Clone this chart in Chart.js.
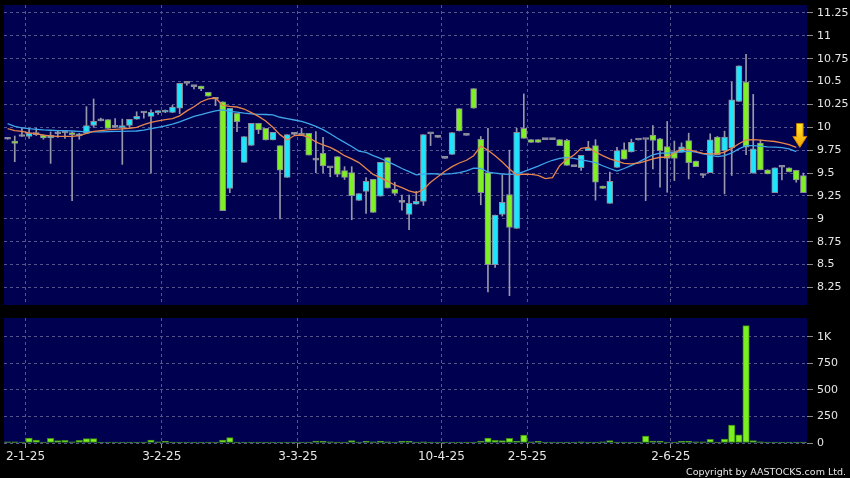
<!DOCTYPE html>
<html>
<head>
<meta charset="utf-8">
<script src="https://cdn.jsdelivr.net/npm/chart.js@4.4.1/dist/chart.umd.min.js"></script>
<style>
  html, body { margin: 0; padding: 0; background: #000; }
  #wrap { position: relative; width: 850px; height: 478px; overflow: hidden; background: #000; }
  #wrap canvas { position: absolute; left: 0; }
  #pc { top: 0; }
  #vc { top: 310px; }
  .copy { position: absolute; right: 4px; bottom: 1px; color: #e6e6e6;
          font: 9.5px "DejaVu Sans", sans-serif; white-space: nowrap; }
</style>
</head>
<body>
<div id="wrap">
  <canvas id="pc" width="850" height="310"></canvas>
  <canvas id="vc" width="850" height="168"></canvas>
  <div class="copy">Copyright by AASTOCKS.com Ltd.</div>
</div>
<script>
/* ── Data ──────────────────────────────────────────── */
const open = [
  9.87, 9.85, 9.90, 9.90, 9.92, 9.912, 9.883, 9.93, 9.94, 9.927,
  9.905, 9.934, 10.02, 10.07, 10.084, 10.0, 9.996, 10.022, 10.088, 10.157,
  10.12, 10.16, 10.165, 10.164, 10.208, 10.48, 10.445, 10.45, 10.383, 10.32,
  10.28, 9.332, 10.153, 9.617, 9.803, 10.044, 9.989, 9.861, 9.80, 9.453,
  9.923, 9.916, 9.934, 9.642, 9.715, 9.558, 9.679, 9.526, 9.504, 9.20,
  9.30, 9.431, 9.248, 9.668, 9.321, 9.18, 9.047, 9.16, 9.19, 9.93,
  9.89, 9.66, 9.704, 10.204, 9.912, 10.423, 9.868, 9.504, 8.50, 9.047,
  9.266, 8.894, 9.989, 9.865, 9.865, 9.865, 9.865, 9.865, 9.858, 9.57,
  9.558, 9.745, 9.80, 9.358, 9.168, 9.562, 9.756, 9.73, 9.861, 9.867,
  9.914, 9.874, 9.79, 9.735, 9.728, 9.856, 9.63, 9.473, 9.505, 9.892,
  9.746, 9.776, 10.283, 10.494, 9.498, 9.827, 9.535, 9.286, 9.564, 9.557,
  9.531, 9.473
];
const close = [
  9.87, 9.825, 9.90, 9.934, 9.92, 9.883, 9.912, 9.93, 9.94, 9.92,
  9.93, 10.02, 10.066, 10.07, 9.989, 10.0, 10.018, 10.088, 10.12, 10.157,
  10.164, 10.18, 10.18, 10.22, 10.482, 10.48, 10.445, 10.42, 10.34, 10.307,
  9.09, 10.208, 10.062, 9.898, 10.044, 9.971, 9.861, 9.945, 9.533, 9.92,
  9.923, 9.916, 9.697, 9.642, 9.577, 9.558, 9.485, 9.453, 9.252, 9.277,
  9.409, 9.069, 9.617, 9.336, 9.277, 9.18, 9.168, 9.19, 9.92, 9.93,
  9.89, 9.66, 9.942, 9.96, 9.912, 10.208, 9.285, 8.50, 9.04, 9.18,
  8.905, 9.945, 9.88, 9.836, 9.836, 9.865, 9.865, 9.80, 9.584, 9.57,
  9.693, 9.774, 9.40, 9.332, 9.409, 9.745, 9.653, 9.836, 9.861, 9.867,
  9.856, 9.746, 9.659, 9.659, 9.787, 9.615, 9.571, 9.473, 9.863, 9.699,
  9.892, 10.30, 10.673, 9.783, 9.765, 9.535, 9.491, 9.557, 9.564, 9.513,
  9.425, 9.286
];
const high = [
  9.88, 9.905, 10.0, 9.99, 9.99, 9.92, 9.95, 9.96, 9.95, 9.95,
  9.935, 10.226, 10.31, 10.1, 10.084, 10.095, 10.09, 10.088, 10.17, 10.17,
  10.19, 10.18, 10.19, 10.24, 10.482, 10.48, 10.445, 10.45, 10.383, 10.32,
  10.28, 10.208, 10.153, 9.898, 10.044, 10.044, 9.989, 9.945, 9.80, 9.92,
  9.93, 9.99, 9.934, 9.953, 9.89, 9.56, 9.68, 9.57, 9.57, 9.277,
  9.45, 9.431, 9.617, 9.668, 9.40, 9.26, 9.26, 9.30, 9.92, 9.94,
  9.9, 9.66, 9.942, 10.204, 9.912, 10.423, 9.90, 9.989, 9.04, 9.48,
  9.75, 9.99, 10.365, 9.865, 9.865, 9.865, 9.87, 9.865, 9.87, 9.57,
  9.693, 9.847, 9.865, 9.358, 9.511, 9.78, 9.83, 9.87, 9.861, 9.87,
  10.02, 9.88, 10.064, 9.85, 9.83, 9.936, 9.63, 9.49, 9.929, 9.90,
  9.958, 10.494, 10.673, 10.797, 10.36, 9.86, 9.535, 9.557, 9.57, 9.557,
  9.531, 9.50
];
const low = [
  9.87, 9.624, 9.90, 9.88, 9.91, 9.87, 9.606, 9.89, 9.88, 9.197,
  9.87, 9.93, 10.0, 10.07, 9.989, 10.0, 9.595, 10.0, 10.088, 10.1,
  9.50, 10.14, 10.16, 10.16, 10.15, 10.46, 10.42, 10.40, 10.34, 10.237,
  9.09, 9.285, 9.953, 9.617, 9.803, 9.93, 9.861, 9.861, 9.0, 9.453,
  9.92, 9.916, 9.697, 9.504, 9.504, 9.46, 9.46, 9.43, 8.99, 9.20,
  9.058, 9.069, 9.248, 9.336, 9.26, 9.095, 8.88, 9.16, 9.146, 9.80,
  9.89, 9.66, 9.704, 9.96, 9.912, 10.208, 9.153, 8.20, 8.47, 9.03,
  8.16, 8.894, 9.88, 9.836, 9.836, 9.865, 9.865, 9.80, 9.584, 9.57,
  9.53, 9.745, 9.204, 9.332, 9.168, 9.562, 9.653, 9.73, 9.861, 9.199,
  9.546, 9.345, 9.29, 9.418, 9.728, 9.436, 9.571, 9.45, 9.505, 9.699,
  9.272, 9.473, 10.283, 9.70, 9.498, 9.535, 9.491, 9.286, 9.425, 9.513,
  9.40, 9.286
];
const volume = [
  12, 12, 6, 47, 28, 6, 44, 22, 25, 12,
  25, 41, 41, 6, 6, 6, 6, 9, 9, 6,
  28, 12, 16, 6, 9, 6, 6, 6, 6, 6,
  28, 50, 9, 9, 0, 0, 0, 0, 6, 6,
  6, 6, 6, 19, 16, 12, 9, 9, 22, 9,
  16, 12, 16, 12, 9, 16, 16, 9, 12, 6,
  6, 0, 2, 0, 0, 0, 19, 47, 25, 22,
  44, 19, 75, 12, 16, 9, 6, 6, 9, 9,
  12, 9, 9, 12, 22, 9, 6, 6, 6, 66,
  19, 19, 9, 9, 16, 16, 12, 12, 34, 9,
  38, 169, 78, 1107, 22, 12, 9, 9, 9, 9,
  9, 9
];
// short moving average (orange) and long moving average (blue), as drawn
const maShort = [
  9.985, 9.965, 9.955, 9.94, 9.93, 9.915, 9.905, 9.902, 9.90, 9.902,
  9.91, 9.935, 9.955, 9.965, 9.972, 9.978, 9.984, 9.99, 10.0, 10.03,
  10.055, 10.07, 10.085, 10.095, 10.125, 10.18, 10.225, 10.28, 10.31, 10.32,
  10.24, 10.228, 10.222, 10.2, 10.16, 10.12, 10.07, 10.0, 9.92, 9.862,
  9.91, 9.916, 9.89, 9.84, 9.807, 9.78, 9.74, 9.69, 9.655, 9.615,
  9.55, 9.485, 9.45, 9.41, 9.37, 9.34, 9.305, 9.285, 9.32, 9.40,
  9.46, 9.52, 9.57, 9.61, 9.64, 9.69, 9.795, 9.75, 9.69, 9.62,
  9.545, 9.478, 9.489, 9.485, 9.475, 9.44, 9.45, 9.58, 9.65, 9.697,
  9.77, 9.78, 9.73, 9.69, 9.655, 9.63, 9.605, 9.60, 9.61, 9.63,
  9.655, 9.673, 9.673, 9.72, 9.765, 9.755, 9.735, 9.715, 9.71, 9.71,
  9.73, 9.77, 9.82, 9.863, 9.865, 9.86, 9.852, 9.845, 9.83, 9.81,
  9.78
];
const maLong = [
  10.04, 10.01, 9.995, 9.985, 9.978, 9.972, 9.968, 9.965, 9.963, 9.96,
  9.955, 9.95, 9.95, 9.95, 9.952, 9.955, 9.956, 9.958, 9.96, 9.97,
  9.985, 10.0, 10.015, 10.035, 10.06, 10.09, 10.12, 10.14, 10.16, 10.18,
  10.19, 10.175, 10.165, 10.155, 10.148, 10.142, 10.14, 10.135, 10.11, 10.095,
  10.08, 10.065, 10.04, 10.01, 9.975, 9.93, 9.88, 9.835, 9.79, 9.74,
  9.725, 9.69, 9.66, 9.625, 9.59, 9.55, 9.515, 9.48, 9.488, 9.495,
  9.49, 9.489, 9.495, 9.505, 9.525, 9.555, 9.55, 9.51, 9.50, 9.49,
  9.485, 9.49, 9.515, 9.545, 9.575, 9.61, 9.64, 9.66, 9.672, 9.66,
  9.645, 9.63, 9.615, 9.58, 9.55, 9.522, 9.55, 9.585, 9.62, 9.66,
  9.70, 9.717, 9.717, 9.725, 9.732, 9.739, 9.73, 9.71, 9.695, 9.68,
  9.69, 9.72, 9.765, 9.80, 9.801, 9.795, 9.786, 9.783, 9.778, 9.765,
  9.735
];
const days = open.map((_, i) => i);

const dateTickIdx  = [3, 22, 41, 61, 73, 93];
const dateTickText = ['2-1-25', '3-2-25', '3-3-25', '10-4-25', '2-5-25', '2-6-25'];
const priceTicks     = [8.25, 8.5, 8.75, 9, 9.25, 9.5, 9.75, 10, 10.25, 10.5, 10.75, 11, 11.25];
const priceTickText  = ['8.25', '8.5', '8.75', '9', '9.25', '9.5', '9.75', '10', '10.25', '10.5', '10.75', '11', '11.25'];
const volTicks       = [0, 250, 500, 750, 1000];
const volTickText    = ['0', '250', '500', '750', '1K'];

/* ── Style ──────────────────────────────────────────── */
const NAVY = '#000050';
const GRID = '#55558c';
const TXT  = '#e6e6e6';
const UP   = '#1ee4fc';
const DOWN = '#7ff024';
const FLAT = '#a4a4b0';
const AXIS_W = 43;
const SLOT = (850 - AXIS_W - 4) / days.length;

function candleColor(i) {
  if (close[i] > open[i]) return UP;
  if (close[i] < open[i]) return DOWN;
  return FLAT;
}
const gridAtDate = ctx => dateTickIdx.includes(ctx.index) ? GRID : 'rgba(0,0,0,0)';

// fixed axis boxes: no label overhang padding, so the plot areas keep their size
function fixY(s) { s.width = AXIS_W; s.paddingTop = 0; s.paddingBottom = 0; }

/* ── Plugins ────────────────────────────────────────── */
const areaBg = {
  id: 'areaBg',
  beforeDraw(c) {
    const { ctx, chartArea: a } = c;
    ctx.save();
    ctx.fillStyle = NAVY;
    ctx.fillRect(a.left, a.top, a.width, a.height);
    ctx.restore();
  }
};
const arrowMark = {
  id: 'arrowMark',
  afterDatasetsDraw(c) {
    const last = maShort.length - 1;
    const x = c.scales.x.getPixelForValue(last) + SLOT / 2;
    const tip = c.scales.y.getPixelForValue(maShort[last]);
    const ctx = c.ctx;
    const g = ctx.createLinearGradient(0, tip - 24, 0, tip);
    g.addColorStop(0, '#ffe82a');
    g.addColorStop(1, '#f5a400');
    ctx.save();
    ctx.beginPath();
    ctx.moveTo(x - 3.3, tip - 24);
    ctx.lineTo(x + 3.3, tip - 24);
    ctx.lineTo(x + 3.3, tip - 11);
    ctx.lineTo(x + 7, tip - 11);
    ctx.lineTo(x, tip);
    ctx.lineTo(x - 7, tip - 11);
    ctx.lineTo(x - 3.3, tip - 11);
    ctx.closePath();
    ctx.fillStyle = g;
    ctx.fill();
    ctx.strokeStyle = '#c87800';
    ctx.lineWidth = 1;
    ctx.stroke();
    ctx.restore();
  }
};

const yTickFont = { family: 'DejaVu Sans', size: 11 };

/* ── Price chart ────────────────────────────────────── */
new Chart(document.getElementById('pc'), {
  type: 'bar',
  data: {
    labels: days,
    datasets: [
      { type: 'line', data: maShort, borderColor: '#e8844c', borderWidth: 1.3,
        pointRadius: 0, tension: 0, order: 0 },
      { type: 'line', data: maLong, borderColor: '#3ea6ea', borderWidth: 1.3,
        pointRadius: 0, tension: 0, order: 0 },
      { data: open.map((o, i) => [o, close[i]]),
        backgroundColor: ctx => candleColor(ctx.dataIndex),
        borderColor: '#8a8a98', borderWidth: 1, borderSkipped: false,
        barThickness: 6, minBarLength: 2, grouped: false, order: 1 },
      { data: low.map((l, i) => [l, high[i]]),
        backgroundColor: '#9898a8', barThickness: 1, grouped: false, order: 2 }
    ]
  },
  options: {
    responsive: false, animation: false, devicePixelRatio: 1,
    layout: { padding: { left: 4, top: 5, right: 0, bottom: 5 } },
    plugins: { legend: { display: false }, tooltip: { enabled: false } },
    scales: {
      x: {
        grid: { offset: true, color: gridAtDate, drawTicks: false },
        border: { display: false, dash: [3, 3] },
        ticks: { display: false, autoSkip: false },
        afterFit: s => { s.height = 0; s.paddingLeft = 0; s.paddingRight = 0; }
      },
      y: {
        position: 'right', min: 8.058, max: 11.337,
        afterBuildTicks: s => { s.ticks = priceTicks.map(v => ({ value: v })); },
        ticks: { color: TXT, font: yTickFont, padding: 4,
                 callback: v => priceTickText[priceTicks.indexOf(v)] },
        grid: { color: GRID, tickLength: 6, tickColor: '#8a8a8a' },
        border: { display: false, dash: [3, 3] },
        afterFit: fixY
      }
    }
  },
  plugins: [areaBg, arrowMark]
});

/* ── Volume chart ───────────────────────────────────── */
new Chart(document.getElementById('vc'), {
  type: 'bar',
  data: {
    labels: days,
    datasets: [
      { data: volume, backgroundColor: '#7cf020', borderColor: '#3f8a14', borderWidth: 1,
        borderSkipped: false, barThickness: 6.5, minBarLength: 1 }
    ]
  },
  options: {
    responsive: false, animation: false, devicePixelRatio: 1,
    layout: { padding: { left: 4, top: 8, right: 0, bottom: 0 } },
    plugins: { legend: { display: false }, tooltip: { enabled: false } },
    scales: {
      x: {
        grid: { offset: true, color: gridAtDate, tickLength: 5,
                tickColor: ctx => dateTickIdx.includes(ctx.index) ? '#9a9a9a' : 'rgba(0,0,0,0)' },
        border: { display: false, dash: [3, 3] },
        ticks: { autoSkip: false, maxRotation: 0, minRotation: 0, color: TXT,
                 font: { family: 'DejaVu Sans', size: 12 }, padding: 2, labelOffset: -SLOT / 2,
                 callback: (v, i) => { const k = dateTickIdx.indexOf(i); return k < 0 ? '' : dateTickText[k]; } },
        afterFit: s => { s.height = 35; s.paddingLeft = 0; s.paddingRight = 0; }
      },
      y: {
        position: 'right', min: 0, max: 1179,
        afterBuildTicks: s => { s.ticks = volTicks.map(v => ({ value: v })); },
        ticks: { color: TXT, font: yTickFont, padding: 4,
                 callback: v => volTickText[volTicks.indexOf(v)] },
        grid: { color: GRID, tickLength: 6, tickColor: '#8a8a8a' },
        border: { display: false, dash: [3, 3] },
        afterFit: fixY
      }
    }
  },
  plugins: [areaBg]
});
</script>
</body>
</html>
